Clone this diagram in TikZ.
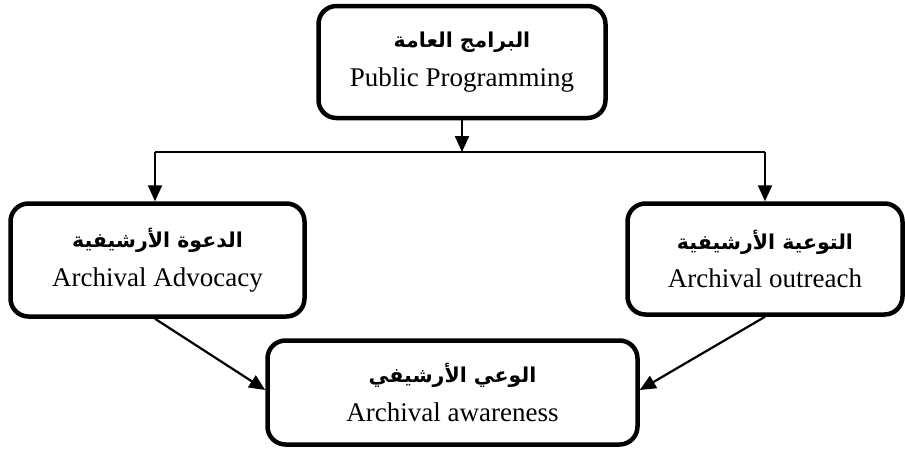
\documentclass[tikz,border=0pt]{standalone}
\usepackage{fontspec}
\setmainfont{Liberation Serif}
\newfontfamily\arabicfont[Script=Arabic]{DejaVu Sans}
\TeXXeTstate=1
\usetikzlibrary{arrows.meta}
\begin{document}
\begin{tikzpicture}[x=1pt,y=-1pt,
  box/.style={draw, line width=4.5pt, rounded corners=18pt, align=center, inner sep=0pt},
  conn/.style={line width=2.2pt, -{Triangle[length=16pt,width=14pt]}},
  plain/.style={line width=2.2pt}]
\useasboundingbox (0,0) rectangle (905,448);
\newcommand{\bt}[2]{{\fontsize{20.5}{22}\selectfont\arabicfont\bfseries\beginR #1\endR}\\[14pt]{\fontsize{27}{30}\selectfont #2}}
\node[box, minimum width=287pt, minimum height=112pt] (top) at (462,62) {\bt{البرامج العامة}{Public Programming}};
\node[box, minimum width=294pt, minimum height=113pt] (left) at (157.5,260) {\bt{الدعوة الأرشيفية}{Archival Advocacy}};
\node[box, minimum width=275pt, minimum height=111pt] (right) at (765,259) {\bt{التوعية الأرشيفية}{Archival outreach}};
\node[box, minimum width=370pt, minimum height=104pt] (bot) at (452.5,392.5) {\bt{الوعي الأرشيفي}{Archival awareness}};
\coordinate (hl) at (155,152);
\coordinate (hr) at (765,152);
\coordinate (hm) at (462,152);
\draw[plain] (hl) -- (hr);
\draw[conn] (top.south) -- (hm);
\draw[conn] (hl) -- (left.north -| hl);
\draw[conn] (hr) -- (right.north -| hr);
\draw[conn] (left.south -| hl) -- (bot.west |- 0,390);
\draw[conn] (right.south -| hr) -- (bot.east |- 0,390);
\end{tikzpicture}
\end{document}
